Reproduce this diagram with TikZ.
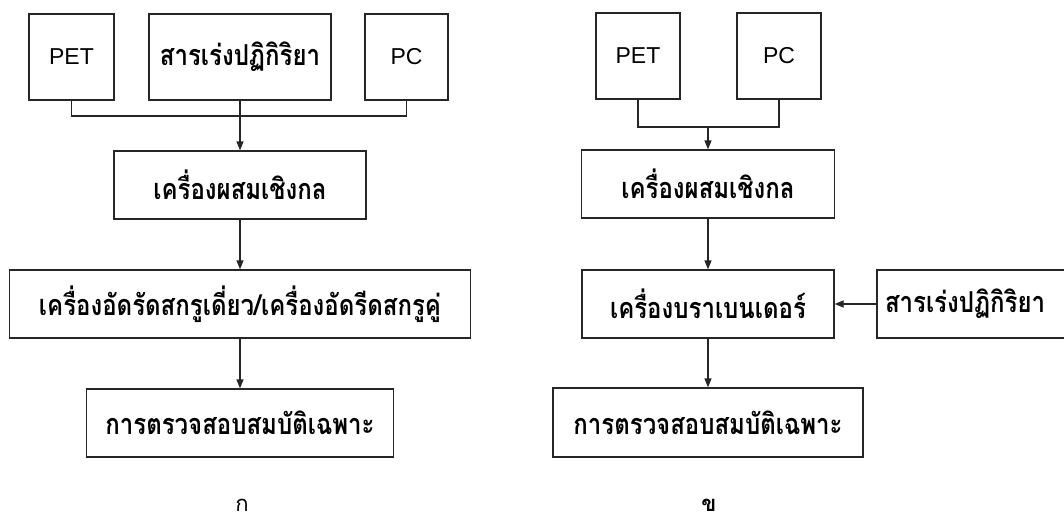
\documentclass[tikz,border=0pt]{standalone}
\usepackage{fontspec}
\usepackage{graphicx}
\setmainfont{Liberation Sans}
\newfontfamily\thai[Script=Thai]{Loma}
\newcommand\thtxt[1]{\scalebox{1}[1.2]{#1}}
\usetikzlibrary{arrows.meta}
\tikzset{
  box/.style={draw=black!85, line width=1.3pt, rectangle, inner sep=0pt, font=\thai\bfseries\fontsize{24}{28}\selectfont},
  latin/.style={font=\fontsize{23}{27}\selectfont},
  conn/.style={draw=black!85, line width=1.3pt},
  arr/.style={conn, -{Triangle[length=9pt,width=7pt]}},
  figlabel/.style={inner sep=0pt, font=\thai\fontsize{22}{26}\selectfont}
}
\begin{document}
\begin{tikzpicture}[x=1pt,y=-1pt]
\useasboundingbox (0,0) rectangle (1064,522);
\clip (0,0) rectangle (1064,522);
\fill[white] (0,0) rectangle (1064,522);
% left diagram
\node[box,latin,minimum width=85pt,minimum height=86pt] (petA) at (71.5,57) {PET};
\node[box,minimum width=182pt,minimum height=86pt] (catA) at (240,57) {\thtxt{สารเร่งปฏิกิริยา}};
\node[box,latin,minimum width=83pt,minimum height=86pt] (pcA) at (406.5,57) {PC};
\node[box,minimum width=252pt,minimum height=68pt] (mixA) at (240,185) {\thtxt{เครื่องผสมเชิงกล}};
\node[box,minimum width=461pt,minimum height=68pt] (extA) at (240,304) {\thtxt{เครื่องอัดรัดสกรูเดี่ยว/เครื่องอัดรีดสกรูคู่}};
\node[box,minimum width=307pt,minimum height=68pt] (testA) at (240,423) {\thtxt{การตรวจสอบสมบัติเฉพาะ}};
\node[figlabel] (capA) at (242,505) {ก};
\coordinate (jA) at (240,116);
\draw[conn] (petA.south) |- (jA) -| (pcA.south);
\draw[arr] (catA.south) -- (mixA.north);
\draw[arr] (mixA.south) -- (extA.north);
\draw[arr] (extA.south) -- (testA.north);
% right diagram
\node[box,latin,minimum width=84pt,minimum height=86pt] (petB) at (638,56) {PET};
\node[box,latin,minimum width=84pt,minimum height=86pt] (pcB) at (779,56) {PC};
\node[box,minimum width=253pt,minimum height=68pt] (mixB) at (708,184) {\thtxt{เครื่องผสมเชิงกล}};
\node[box,minimum width=252pt,minimum height=68pt] (brabB) at (708,304) {\thtxt{เครื่องบราเบนเดอร์}};
\node[box,minimum height=68pt,text width=190pt,align=left,inner xsep=8pt] (catB) at (980,304) {\thtxt{สารเร่งปฏิกิริยา}};
\node[box,minimum width=310pt,minimum height=69pt] (testB) at (708,422.5) {\thtxt{การตรวจสอบสมบัติเฉพาะ}};
\node[figlabel,font=\thai\bfseries\fontsize{22}{26}\selectfont] (capB) at (709,505) {ข};
\coordinate (jB) at (708,127);
\draw[conn] (petB.south) |- (jB) -| (pcB.south);
\draw[arr] (jB) -- (mixB.north);
\draw[arr] (mixB.south) -- (brabB.north);
\draw[arr] (catB.west) -- (brabB.east);
\draw[arr] (brabB.south) -- (testB.north);
\end{tikzpicture}
\end{document}
